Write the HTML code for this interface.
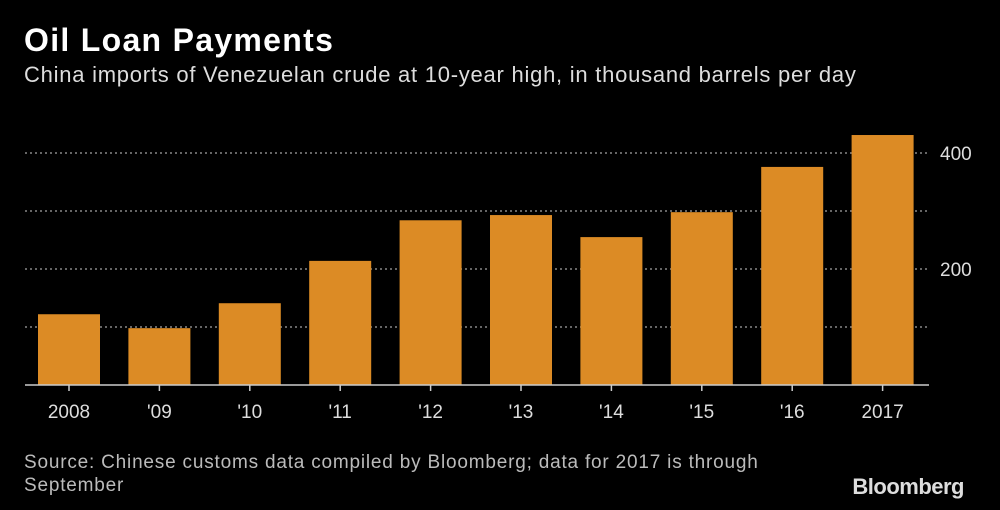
<!DOCTYPE html>
<html><head><meta charset="utf-8"><style>
body{margin:0;width:1000px;height:510px;background:#000;overflow:hidden;font-family:"Liberation Sans",sans-serif;color:#fff}
#t{position:absolute;left:24px;top:22px;font-size:32px;font-weight:bold;letter-spacing:1.3px}
#s{position:absolute;left:24px;top:62px;font-size:22px;color:#ddd;letter-spacing:0.75px}
#src{position:absolute;left:24px;top:451px;font-size:19px;color:#bbb;line-height:23px;width:745px;letter-spacing:0.8px}
#logo{position:absolute;right:36px;top:474px;font-size:22px;font-weight:bold;color:#ddd;letter-spacing:-0.5px}
svg{position:absolute;left:0;top:0}
</style></head><body>
<div id="t">Oil Loan Payments</div>
<div id="s">China imports of Venezuelan crude at 10-year high, in thousand barrels per day</div>
<svg id="c" width="1000" height="510"></svg>
<div id="src">Source: Chinese customs data compiled by Bloomberg; data for 2017 is through September</div>
<div id="logo">Bloomberg</div>
<script>
const categories=["2008","'09","'10","'11","'12","'13","'14","'15","'16","2017"];
const values=[122,98,141,214,284,293,255,298,376,431];
const gridValues=[100,200,300,400];
const tickLabels=["200","400"];
const NS="http://www.w3.org/2000/svg";
const svg=document.getElementById('c');
const y=v=>385-v*0.58;
const x=i=>38+i*90.4;
const bw=62;
function mk(t,a){const e=document.createElementNS(NS,t);for(const k in a)e.setAttribute(k,a[k]);svg.appendChild(e);return e;}
gridValues.forEach(g=>{
 const l=mk('line',{x1:25,x2:929,y1:y(g),y2:y(g),stroke:'#888','stroke-width':1.5,'stroke-dasharray':'2,3'});
 
 
});
tickLabels.forEach(t=>{
 const e=mk('text',{x:940,y:y(+t)+7,fill:'#ddd','font-size':19});
 e.textContent=t;
 
 
});
values.forEach((v,i)=>{
 const r=mk('rect',{x:x(i),y:y(v),width:bw,height:y(0)-y(v),fill:'#dc8b25'});
 
 
 mk('line',{x1:x(i)+bw/2,x2:x(i)+bw/2,y1:385,y2:391,stroke:'#ccc','stroke-width':1.5});
 const t=mk('text',{x:x(i)+bw/2,y:418,fill:'#ddd','font-size':19,'text-anchor':'middle'});
 t.textContent=categories[i];
 
 
});
const b=mk('line',{x1:25,x2:929,y1:385,y2:385,stroke:'#ccc','stroke-width':1.5});


</script>
</body></html>
